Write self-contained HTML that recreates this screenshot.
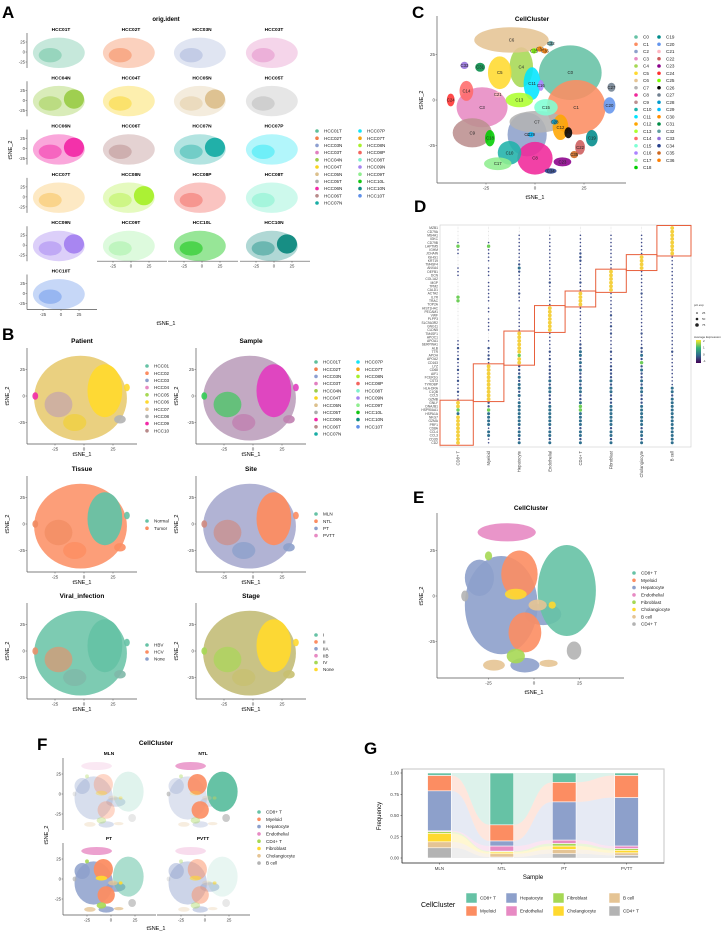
<!DOCTYPE html>
<html><head><meta charset="utf-8">
<style>
html,body{margin:0;padding:0;background:#fff;}
svg{display:block;font-family:"Liberation Sans",sans-serif;}
</style></head>
<body>
<svg id="fig" width="728" height="939" viewBox="0 0 728 939">
<defs>
<linearGradient id="viridis" x1="0" y1="1" x2="0" y2="0">
<stop offset="0" stop-color="#440154"/><stop offset="0.33" stop-color="#31688e"/><stop offset="0.66" stop-color="#35b779"/><stop offset="1" stop-color="#fde725"/>
</linearGradient>
</defs>
<g font-weight="bold" font-size="17" fill="#000">
<text x="2" y="18">A</text>
<text x="2" y="340">B</text>
<text x="412" y="18">C</text>
<text x="414" y="212">D</text>
<text x="413" y="503">E</text>
<text x="37" y="750">F</text>
<text x="364" y="754">G</text>
</g>
</svg>
<script>
const NS='http://www.w3.org/2000/svg';
const svg=document.getElementById('fig');

// ---------- Panel G data ----------
const gSamples=['MLN','NTL','PT','PVTT'];
const gCellTypes=['CD8+ T','Myeloid','Hepatocyte','Endothelial','Fibroblast','Cholangiocyte','B cell','CD4+ T'];
const gFreqMLN=[0.03,0.18,0.47,0.01,0.02,0.10,0.07,0.12];
const gFreqNTL=[0.61,0.19,0.06,0.06,0.01,0.02,0.04,0.01];
const gFreqPT=[0.11,0.23,0.45,0.04,0.03,0.04,0.05,0.05];
const gFreqPVTT=[0.03,0.26,0.57,0.03,0.02,0.03,0.03,0.03];
const gYTicks=[0,0.25,0.5,0.75,1];
const gYTickLabels=['0.00','0.25','0.50','0.75','1.00'];

// ---------- Panel D data ----------
const dGenes=['MZB1','CD79A','MS4A1','IGKC','CD79B','LAPTM5','IGHM','JCHAIN','IGHG1','KRT19','TM4SF4','ANXA4','DEFB1','DCN','COL1A2','MGP','TPM2','CALD1','ACTA2','IL7R','TRAC','TOP2A','HIST1H4C','PECAM1','VWF','PLPP3','SLC9A3R2','GNG11','CLDN5','TM4SF1','APOC1','APOA1','SERPINA1','ALB','TTR','APOH','APOA2','CD163','LYZ','CD68','AIF1','FCER1G','CST3','TYROBP','HLA-DRA','C1QB','CCL5','GZMB','GNLY','DNAJB1','HSP90AA1','HSPA1A','NKG7','GZMA','PRF1','CD8A','CCL4','CCL3','CD3D','CD2'];
const dClusters=['CD8+ T','Myeloid','Hepatocyte','Endothelial','CD4+ T','Fibroblast','Cholangiocyte','B cell'];
const dLevelCD8='000014110001110000044000000000011211211211211211554355555555';
const dLevelMye='000014111101110111111011011110010212215555555555224333313311';
const dLevelHep='001111111123211111211011111115555554552223233231333333323323';
const dLevelEndo='001111111111111211111155555551111121212222323322233333323323';
const dLevelCD4='001111122211111211555511111111112233232322323322344333323323';
const dLevelFib='001111111111555555111111211212111121212222323322233333323323';
const dLevelChol='001111115555111111211111111112111223242322323322233333323323';
const dLevelB='555555551111111111111111111111111121111111113323333333333333';
const dBoxStart=[48,38,29,22,18,12,8,0];
const dBoxEnd=[59,47,37,28,21,17,11,7];

// ---------- tSNE legend data ----------
const aSamples=['HCC01T','HCC02T','HCC03N','HCC03T','HCC04N','HCC04T','HCC05N','HCC05T','HCC06N','HCC06T','HCC07N','HCC07P','HCC07T','HCC08N','HCC08P','HCC08T','HCC09N','HCC09T','HCC10L','HCC10N','HCC10T'];
const aColors=['#5fbf9a','#f47d4a','#8d9fd0','#e17fc0','#9ccd4a','#f8d31d','#dcc08d','#ababab','#f22aa8','#b88a8a','#19ada5','#14e4f4','#f5a511','#a8f02c','#f3655e','#7df0cd','#a482f0','#90ee90','#13c613','#0f8a80','#5f8fe8'];
const aBaseOpacity=[0.65,0.65,0.5,0.6,0.7,0.65,0.55,0.55,0.75,0.7,0.6,0.6,0.45,0.55,0.7,0.7,0.7,0.55,0.8,0.6,0.65];
const aDenseRight=[0,0,0,0,1,0,1,0,1,0,1,0,0,1,0,0,1,0,0,1,0];
const patients=['HCC01','HCC02','HCC03','HCC04','HCC05','HCC06','HCC07','HCC08','HCC09','HCC10'];
const patientColors=['#66c2a5','#fc8d62','#8da0cb','#e78ac3','#a6d854','#ffd92f','#e5c494','#b3b3b3','#f22aa8','#b88a8a'];
const cellColors=['#66c2a5','#fc8d62','#8da0cb','#e78ac3','#a6d854','#ffd92f','#e5c494','#b3b3b3'];
const cClusters=['C0','C1','C2','C3','C4','C5','C6','C7','C8','C9','C10','C11','C12','C13','C14','C15','C16','C17','C18','C19','C20','C21','C22','C23','C24','C25','C26','C27','C28','C29','C30','C31','C32','C33','C34','C35','C36'];
const cColors=['#66c2a5','#fc8d62','#8da0cb','#e78ac3','#a6d854','#ffd92f','#e5c494','#b3b3b3','#f0279a','#bc8f8f','#20b2aa','#00e5ff','#ffa500','#adff2f','#ff6a6a','#7fffd4','#ab82ff','#90ee90','#00cd00','#008b8b','#6495ed','#ffb6c1','#cd5c5c','#8b008b','#ff3030','#7cfc00','#000000','#708090','#009acd','#00bfff','#ff8c00','#008b45','#5f9ea0','#9370db','#27408b','#cd661d','#ff7f00'];
const cX=[18,21,-4,-27,-7,-18,-12,1,0,-32,-13,-1.5,13,-8,-35,5.6,3,-19,-23,29,38,-19,23,14,-43,-0.5,17,39,10,-2,2.5,-28,8,-36,8,20,5];
const cY=[15,-4,-19,-4,18,15,33,-12,-32,-18,-29,9,-15,0,5,-4,8,-35,-21,-21,-3,3,-26,-34,0,27,-18,7,-12,-19,28,18,31,19,-39,-30,27];
const cRX=[16,15,10,13,6,6,19,14,9,10,6,4.3,4,7,3.5,6,1.5,7,2.5,3,3,2,2.5,4.5,2,1.5,2,2,1.5,1.5,1.5,2.5,1.5,2,3,2,1.5];
const cRY=[15,15,12,11,11,9,7,6,9,8,6.5,9,7,4,5.5,4.5,3,3.5,4.5,4.5,4.5,1.5,4,2.5,3.5,1.5,3,2.5,1.5,1.5,1.5,2.5,1.5,2,1.5,2,1.5];
const eType=[2,2,2,2,3,0,1,1,4,5,6,6,6,7,7,4,5];
const eX=[-18,5,-5,-30,-15,18,-8,-5,-10,-10,2,-22,8,22,-38,-25,10];
const eY=[-5,-10,-38,10,35,3,12,-20,-33,1,-5,-38,-37,-30,0,22,-5];
const eRX=[20,10,8,8,16,16,10,9,5,6,5,6,5,4,2,2,2];
const eRY=[27,6,4,10,5,25,13,11,4,3,3,3,2,5,3,2.5,2];
const fTypeOpacityMLN=[0.2,0.35,0.35,0.2,0.35,0.4,0.3,0.3];
const fTypeOpacityNTL=[1,0.9,0.3,0.8,0.4,0.3,0.3,0.7];
const fTypeOpacityPT=[0.55,0.95,0.85,0.8,0.9,0.95,0.8,0.7];
const fTypeOpacityPVTT=[0.15,0.5,0.45,0.3,0.4,0.6,0.3,0.3];

function mk(tag,parent,attrs,name){
  const e=document.createElementNS(NS,tag);
  for(const k in attrs)e.setAttribute(k,attrs[k]);
  
  
  (parent||svg).appendChild(e);return e;
}
function T(x,y,s,size,name,o){
  o=o||{};
  const a={x:x,y:y,'font-size':size,fill:o.fill||'#000','text-anchor':o.anchor||'start'};
  if(o.bold)a['font-weight']='bold';
  if(o.rot!==undefined)a.transform='rotate('+o.rot+' '+x+' '+y+')';
  const e=mk('text',o.g,a,name);e.textContent=s;return e;
}
function line(x1,y1,x2,y2,name,c,w){return mk('line',null,{x1:x1,y1:y1,x2:x2,y2:y2,stroke:c||'#333','stroke-width':w||0.8},name);}
function ell(g,cx,cy,rx,ry,fill,op,name){return mk('ellipse',g,{cx:cx,cy:cy,rx:Math.max(rx,0.5),ry:Math.max(ry,0.5),fill:fill,'fill-opacity':op},name);}

function tsneAxes(x0,y0,sx,sy,left,right,top,bottom,opts){
  const tick=[-25,0,25];
  if(opts.yaxis){line(left,top,left,bottom,'y-axis-line','#555',0.7);
    tick.forEach(t=>{T(left-2,y0-t*sy+1.5,String(t),opts.fs||4.5,'y-tick-label',{anchor:'end',fill:'#444'});line(left-1.5,y0-t*sy,left,y0-t*sy,'y-tick','#555',0.5);});}
  if(opts.xaxis){line(left,bottom,right,bottom,'x-axis-line','#555',0.7);
    tick.forEach(t=>{T(x0+t*sx,bottom+(opts.fs||4.5)+2,String(t),opts.fs||4.5,'x-tick-label',{anchor:'middle',fill:'#444'});line(x0+t*sx,bottom,x0+t*sx,bottom+1.5,'x-tick','#555',0.5);});}
}

// ================= PANEL A =================
T(166,21,'orig.ident',6,'panel-a-title',{anchor:'middle',bold:true});
const aColLeft=[27,97,168,240];
aSamples.forEach((s,i)=>{
  const r=Math.floor(i/4),c=i%4;
  const L=aColLeft[c],top=33+r*48.3,R=L+70,B=top+35;
  const x0=L+34,y0=top+19,sx=0.72,sy=0.4;
  T(x0,top-2,s,4.8,'facet-title-'+s,{anchor:'middle',bold:true});
  const g=mk('g',null,{},'facet-'+s);
  ell(g,x0+(-3)*sx,y0-(-2)*sy,36*sx,38*sy,aColors[i],aBaseOpacity[i]*0.55,'scatter-cloud');
  ell(g,x0+(-15)*sx,y0-(-8)*sy,16*sx,18*sy,aColors[i],aBaseOpacity[i]*0.7,'scatter-cloud');
  if(aDenseRight[i])ell(g,x0+18*sx,y0-3*sy,14*sx,24*sy,aColors[i],0.95,'dense-cluster');
  tsneAxes(x0,y0,sx,sy,L,R,top,B,{yaxis:c===0,xaxis:(r===4&&c>0)||(r===5),fs:4.3});
});
T(12,150,'tSNE_2',5.5,'panel-a-y-title',{anchor:'middle',rot:-90});
T(166,325,'tSNE_1',5.5,'panel-a-x-title',{anchor:'middle'});
aSamples.forEach((s,i)=>{
  const col=i<11?0:1,row=i<11?i:i-11;
  const x=col?360:317,y=131+row*7.2;
  mk('circle',null,{cx:x,cy:y,r:1.8,fill:aColors[i]},'legend-key-'+s);
  T(x+7,y+1.6,s,4.6,'legend-label-'+s,{fill:'#222'});
});

// ================= PANEL B =================
const bPanels=[
 {t:'Patient',x0:84,y0:396,base:'#e6c86a',mid:'#c0a0b0',right:'#ffd92f',low:'#f0d040'},
 {t:'Sample',x0:253,y0:396,base:'#b89ab8',mid:'#33cc55',right:'#e040c0',low:'#c080b0'},
 {t:'Tissue',x0:84,y0:524,base:'#fc8d62',mid:'#f08a60',right:'#66c2a5',low:'#fc8d62'},
 {t:'Site',x0:253,y0:524,base:'#a3a6cc',mid:'#d08a80',right:'#fc8d62',low:'#8da0cb'},
 {t:'Viral_infection',x0:84,y0:651,base:'#66c2a5',mid:'#e8906a',right:'#66c2a5',low:'#7fb8a8'},
 {t:'Stage',x0:253,y0:651,base:'#c0b870',mid:'#a6d854',right:'#ffd92f',low:'#c8c070'}];
bPanels.forEach((p,i)=>{
  const sx=1.16,sy=1.06,L=p.x0-57,R=L+110,top=p.y0-48,B=p.y0+48;
  T(p.x0-2,top-5,p.t,6.5,'panel-b-title-'+p.t,{anchor:'middle',bold:true});
  const g=mk('g',null,{},'scatter-'+p.t);
  ell(g,p.x0-3*sx,p.y0+2*sy,40*sx,40*sy,p.base,0.85,'cloud-base');
  ell(g,p.x0-22*sx,p.y0+8*sy,12*sx,12*sy,p.mid,0.65,'cloud-mid');
  ell(g,p.x0-8*sx,p.y0+25*sy,10*sx,8*sy,p.low,0.8,'cloud-low');
  ell(g,p.x0+18*sx,p.y0-5*sy,15*sx,25*sy,p.right,0.95,'cloud-right');
  ell(g,p.x0+37*sx,p.y0-8*sy,2.5*sx,3.5*sy,p.right,0.9,'island');
  ell(g,p.x0+31*sx,p.y0+22*sy,5*sx,4*sy,i===0?'#b3b3b3':p.low,0.9,'island');
  ell(g,p.x0-42*sx,p.y0,2.5*sx,3.5*sy,i===0?'#f22aa8':p.mid,0.9,'island');
  tsneAxes(p.x0,p.y0,sx,sy,L,R,top,B,{yaxis:true,xaxis:true});
  T(L-18,p.y0,'tSNE_2',5.5,'y-axis-title',{anchor:'middle',rot:-90});
  T(p.x0-2,B+12,'tSNE_1',5.5,'x-axis-title',{anchor:'middle'});
});
function legendList(labels,colors,x,y,step,name){labels.forEach((s,i)=>{
  mk('circle',null,{cx:x,cy:y+i*step,r:1.8,fill:colors[i]},name+'-key');
  T(x+7,y+i*step+1.6,s,4.6,name+'-label',{fill:'#222'});});}
legendList(patients,patientColors,147,366,7.2,'patient-legend');
aSamples.forEach((s,i)=>{const col=i<11?0:1,row=i<11?i:i-11;const x=col?358:316,y=362+row*7.2;
  mk('circle',null,{cx:x,cy:y,r:1.8,fill:aColors[i]},'sample-legend-key');
  T(x+7,y+1.6,s,4.6,'sample-legend-label',{fill:'#222'});});
legendList(['Normal','Tumor'],['#66c2a5','#fc8d62'],147,521,7.2,'tissue-legend');
legendList(['MLN','NTL','PT','PVTT'],['#66c2a5','#fc8d62','#8da0cb','#e78ac3'],316,514,7.2,'site-legend');
legendList(['HBV','HCV','None'],['#66c2a5','#fc8d62','#8da0cb'],147,645,7.0,'viral-legend');
legendList(['I','II','IIA','IIB','IV','None'],['#66c2a5','#fc8d62','#8da0cb','#e78ac3','#a6d854','#ffd92f'],316,635,6.9,'stage-legend');

// ================= PANEL C =================
(function(){
  const x0=535,y0=100,sx=1.96,sy=1.82;
  T(532,21,'CellCluster',6.5,'panel-c-title',{anchor:'middle',bold:true});
  const g=mk('g',null,{},'cluster-scatter');
  cClusters.forEach((c,i)=>{ell(g,x0+cX[i]*sx,y0-cY[i]*sy,cRX[i]*sx,cRY[i]*sy,cColors[i],0.88,'cluster-'+c);});
  cClusters.forEach((c,i)=>{T(x0+cX[i]*sx,y0-cY[i]*sy+1.5,c,4.3,'cluster-label-'+c,{anchor:'middle',fill:'#222'});});
  tsneAxes(x0,y0,sx,sy,437,626,16,183,{yaxis:true,xaxis:true});
  T(423,100,'tSNE_2',5.5,'y-axis-title',{anchor:'middle',rot:-90});
  T(535,199,'tSNE_1',5.5,'x-axis-title',{anchor:'middle'});
  cClusters.forEach((c,i)=>{const col=i<19?0:1,row=i<19?i:i-19;const x=col?659:636,y=37+row*7.25;
    mk('circle',null,{cx:x,cy:y,r:1.8,fill:cColors[i]},'cluster-legend-key');
    T(x+7,y+1.6,c,4.6,'cluster-legend-label',{fill:'#222'});});
})();

// ================= PANEL D =================
(function(){
  const L=440,R=691,top=225,B=447;
  mk('rect',null,{x:L,y:top,width:R-L,height:B-top,fill:'none',stroke:'#ccc','stroke-width':0.6},'dotplot-frame');
  const colX=i=>458+i*30.6;
  const rowY=j=>228+j*3.64;
  const levels=[dLevelCD8,dLevelMye,dLevelHep,dLevelEndo,dLevelCD4,dLevelFib,dLevelChol,dLevelB];
  const rad=[0.35,0.8,1.2,1.5,1.7,1.9];
  const col=['#bbb','#3e4a89','#3b528b','#2f6f8e','#6ece58','#f4d03f'];
  dGenes.forEach((gname,j)=>{T(L-2,rowY(j)+1.2,gname,3.3,'gene-label',{anchor:'end',fill:'#444'});});
  dClusters.forEach((c,i)=>{
    line(colX(i),top,colX(i),B,'grid-line','#eee',0.3);
    for(let j=0;j<dGenes.length;j++){
      const lv=+levels[i][j];
      mk('circle',null,{cx:colX(i),cy:rowY(j),r:rad[lv],fill:col[lv]},'dot-'+c);
    }
    T(colX(i)+1.5,451,c,4.2,'dotplot-x-label',{anchor:'end',rot:-90,fill:'#444'});
  });
  dClusters.forEach((c,i)=>{
    const y1=rowY(dBoxStart[i])-2.5,y2=rowY(dBoxEnd[i])+2.5;
    const x1=i===0?L:colX(i)-15.3,x2=i===7?R:colX(i)+15.3;
    mk('rect',null,{x:x1,y:y1,width:x2-x1,height:y2-y1,fill:'none',stroke:'#e8603c','stroke-width':1},'marker-box-'+c);
  });
  T(694,306,'pct.exp',3,'size-legend-title',{fill:'#333'});
  [[313,0.8,'25'],[319,1.3,'50'],[325,1.8,'75']].forEach(d=>{mk('circle',null,{cx:697,cy:d[0],r:d[1],fill:'#222'},'size-legend-key');T(702,d[0]+1,d[2],3,'size-legend-label',{fill:'#333'});});
  T(694,338,'Average Expression',3,'color-legend-title',{fill:'#333'});
  mk('rect',null,{x:696,y:340,width:5,height:23,fill:'url(#viridis)'},'color-bar');
  ['2','1','0','-1'].forEach((s,k)=>T(703,342+k*6.7,s,3,'color-bar-label',{fill:'#333'}));
})();

// ================= PANEL E =================
(function(){
  const x0=534,y0=596,sx=1.82,sy=1.82;
  T(531,510,'CellCluster',6.5,'panel-e-title',{anchor:'middle',bold:true});
  const g=mk('g',null,{},'celltype-scatter');
  eType.forEach((t,k)=>ell(g,x0+eX[k]*sx,y0-eY[k]*sy,eRX[k]*sx,eRY[k]*sy,cellColors[t],0.9,'blob-'+gCellTypes[t]));
  tsneAxes(x0,y0,sx,sy,437,624,513,678,{yaxis:true,xaxis:true});
  T(423,596,'tSNE_2',5.5,'y-axis-title',{anchor:'middle',rot:-90});
  T(534,694,'tSNE_1',5.5,'x-axis-title',{anchor:'middle'});
  legendList(gCellTypes.slice(0,7).concat(['CD4+ T']),cellColors,634,573,7.3,'celltype-legend');
})();

// ================= PANEL F =================
(function(){
  T(156,745,'CellCluster',6.5,'panel-f-title',{anchor:'middle',bold:true});
  const facets=[['MLN',111,794,63,fTypeOpacityMLN],['NTL',205,794,157,fTypeOpacityNTL],['PT',111,879,63,fTypeOpacityPT],['PVTT',205,879,157,fTypeOpacityPVTT]];
  facets.forEach((f,i)=>{
    const sx=0.96,sy=0.8,top=f[2]-36,B=f[2]+36;
    T(f[1]-2,top-3,f[0],4.8,'facet-title-'+f[0],{anchor:'middle',bold:true});
    const g=mk('g',null,{},'facet-'+f[0]);
    eType.forEach((t,k)=>ell(g,f[1]+eX[k]*sx,f[2]-eY[k]*sy,eRX[k]*sx,eRY[k]*sy,cellColors[t],f[4][t],'blob-'+gCellTypes[t]));
    tsneAxes(f[1],f[2],sx,sy,f[3],f[3]+93,top,B,{yaxis:i%2===0,xaxis:i>=2,fs:4.3});
  });
  T(48,835,'tSNE_2',5.5,'y-axis-title',{anchor:'middle',rot:-90});
  T(156,930,'tSNE_1',5.5,'x-axis-title',{anchor:'middle'});
  legendList(['CD8+ T','Myeloid','Hepatocyte','Endothelial','CD4+ T','Fibroblast','Cholangiocyte','B cell'],['#66c2a5','#fc8d62','#8da0cb','#e78ac3','#a6d854','#ffd92f','#e5c494','#b3b3b3'],259,812,7.3,'f-legend');
})();

// ================= PANEL G =================
(function(){
  const L=402,R=664,top=769,B=863;
  const yScale=v=>858-v*85;
  const step=(R-L)/(gSamples.length-1+1.2);
  const xScale=i=>L+0.6*step+i*step;
  const bw=step*0.38;
  const series=[gFreqMLN,gFreqNTL,gFreqPT,gFreqPVTT];
  mk('rect',null,{x:L,y:top,width:R-L,height:B-top,fill:'#fff',stroke:'#cfcfcf','stroke-width':1.2},'plot-panel');
  const lo=[],hi=[];
  series.forEach((s,i)=>{lo[i]=[];hi[i]=[];let acc=0;for(let k=s.length-1;k>=0;k--){lo[i][k]=acc;acc+=s[k];hi[i][k]=acc;}});
  const flows=mk('g',null,{},'alluvial-flows');
  for(let i=0;i<series.length-1;i++){
    gCellTypes.forEach((c,k)=>{
      const xa=xScale(i)+bw/2,xb=xScale(i+1)-bw/2,xm=(xa+xb)/2;
      const d='M'+xa+','+yScale(hi[i][k])+' C'+xm+','+yScale(hi[i][k])+' '+xm+','+yScale(hi[i+1][k])+' '+xb+','+yScale(hi[i+1][k])+
        ' L'+xb+','+yScale(lo[i+1][k])+' C'+xm+','+yScale(lo[i+1][k])+' '+xm+','+yScale(lo[i][k])+' '+xa+','+yScale(lo[i][k])+'Z';
      mk('path',flows,{d:d,fill:cellColors[k],'fill-opacity':0.22},'flow-'+c);
    });
  }
  series.forEach((s,i)=>{gCellTypes.forEach((c,k)=>{
    mk('rect',null,{x:xScale(i)-bw/2,y:yScale(hi[i][k]),width:bw,height:yScale(lo[i][k])-yScale(hi[i][k]),fill:cellColors[k],stroke:'#fff','stroke-width':0.6},'bar-'+gSamples[i]+'-'+c);
  });
    T(xScale(i),870,gSamples[i],4.5,'x-tick-label',{anchor:'middle',fill:'#444'});
    line(xScale(i),B,xScale(i),B+1.5,'x-tick','#333',0.5);
  });
  line(L,top,L,B,'y-axis-line','#333',0.8);
  line(L,B,R,B,'x-axis-line','#333',0.8);
  gYTicks.forEach((v,k)=>{T(L-3,yScale(v)+1.5,gYTickLabels[k],4.5,'y-tick-label',{anchor:'end',fill:'#444'});line(L-1.5,yScale(v),L,yScale(v),'y-tick','#333',0.5);});
  T(381,816,'Frequency',6,'y-axis-title',{anchor:'middle',rot:-90});
  T(533,879,'Sample',6,'x-axis-title',{anchor:'middle'});
  T(421,907,'CellCluster',7,'legend-title');
  const lx=[466,506,553,609];
  gCellTypes.forEach((c,k)=>{
    const ci=[0,2,4,6,1,3,5,7].indexOf(k);
    const colI=ci%4,rowI=Math.floor(ci/4);
    const x=lx[colI],y=893+rowI*13;
    mk('rect',null,{x:x,y:y,width:11,height:10,fill:cellColors[k],stroke:'#fff','stroke-width':0.5},'legend-key-'+c);
    T(x+14,y+6.5,c,4.6,'legend-label-'+c,{fill:'#222'});
  });
})();
</script>
</body></html>
